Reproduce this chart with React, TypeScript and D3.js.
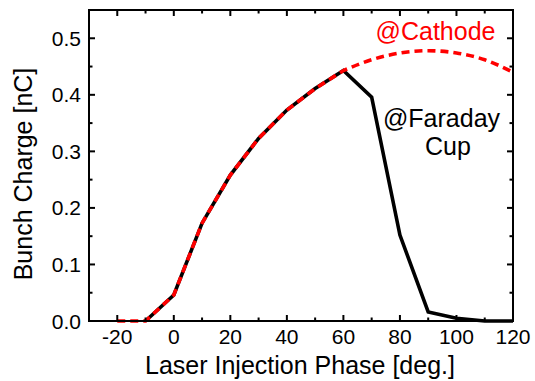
import React from "react";
import * as d3 from "d3";

const phaseFaraday = [-10, 0, 10, 20, 30, 40, 50, 60, 70, 80, 90, 100, 110, 120];
const chargeFaraday = [0, 0.046, 0.173, 0.258, 0.323, 0.373, 0.411, 0.443, 0.396, 0.152, 0.016, 0.005, 0, 0];

const phaseCathodeLin = [-20, -10, 0, 10, 20, 30, 40, 50, 60];
const chargeCathodeLin = [0, 0, 0.046, 0.173, 0.258, 0.323, 0.373, 0.411, 0.443];
const phaseCathodeCurve = [60, 70, 80, 90, 100, 110, 120];
const chargeCathodeCurve = [0.443, 0.462, 0.474, 0.478, 0.474, 0.462, 0.44];

const xMajor = [-20, 0, 20, 40, 60, 80, 100, 120];
const xMinor = [-30, -10, 10, 30, 50, 70, 90, 110];
const yMajor = [0, 0.1, 0.2, 0.3, 0.4, 0.5];
const yMinor = [0.05, 0.15, 0.25, 0.35, 0.45];

const W = 535, H = 381;
const L = 89, T = 10, R = 513, B = 321;
const FONT = "'Liberation Sans', Arial, sans-serif";

export default function App() {
  const x = d3.scaleLinear().domain([-30, 120]).range([L, R]);
  const y = d3.scaleLinear().domain([0, 0.55]).range([B, T]);

  const black = d3.line<number>().x((_, i) => x(phaseFaraday[i])).y((d) => y(d))(chargeFaraday) || "";
  const redLin = d3.line<number>().x((_, i) => x(phaseCathodeLin[i])).y((d) => y(d))(chargeCathodeLin) || "";
  const redCurve = (d3.line<number>().x((_, i) => x(phaseCathodeCurve[i])).y((d) => y(d)).curve(d3.curveMonotoneX)(chargeCathodeCurve) || "").replace(/^M[^A-Za-z]*/, "");
  const red = redLin + redCurve;

  const majLen = 6, minLen = 3.5;

  return (
    <svg width={W} height={H} style={{ position: "absolute", left: 0, top: 0, background: "#fff" }} fontFamily={FONT}>
      <rect x={0} y={0} width={W} height={H} fill="#fff" />
      <path d={black} fill="none" stroke="#000" strokeWidth={3.6} strokeLinejoin="miter" />
      <path d={red} fill="none" stroke="#ff0000" strokeWidth={3.6} strokeDasharray="8,5" />
      <rect x={L} y={T} width={R - L} height={B - T} fill="none" stroke="#000" strokeWidth={2} />
      {xMajor.map((v) => (
        <g key={"xM" + v}>
          <line x1={x(v)} x2={x(v)} y1={B} y2={B - majLen} stroke="#000" strokeWidth={2} />
          <line x1={x(v)} x2={x(v)} y1={T} y2={T + majLen} stroke="#000" strokeWidth={2} />
          <text x={x(v)} y={344} textAnchor="middle" fontSize={21}>{v}</text>
        </g>
      ))}
      {xMinor.map((v) => (
        <g key={"xm" + v}>
          <line x1={x(v)} x2={x(v)} y1={B} y2={B - minLen} stroke="#000" strokeWidth={2} />
          <line x1={x(v)} x2={x(v)} y1={T} y2={T + minLen} stroke="#000" strokeWidth={2} />
        </g>
      ))}
      {yMajor.map((v) => (
        <g key={"yM" + v}>
          <line x1={L} x2={L + majLen} y1={y(v)} y2={y(v)} stroke="#000" strokeWidth={2} />
          <line x1={R} x2={R - majLen} y1={y(v)} y2={y(v)} stroke="#000" strokeWidth={2} />
          <text x={81} y={y(v) + 7.5} textAnchor="end" fontSize={21}>{v.toFixed(1)}</text>
        </g>
      ))}
      {yMinor.map((v) => (
        <g key={"ym" + v}>
          <line x1={L} x2={L + minLen} y1={y(v)} y2={y(v)} stroke="#000" strokeWidth={2} />
          <line x1={R} x2={R - minLen} y1={y(v)} y2={y(v)} stroke="#000" strokeWidth={2} />
        </g>
      ))}
      <text x={300} y={374} textAnchor="middle" fontSize={25}>Laser Injection Phase [deg.]</text>
      <text transform={`translate(32,174) rotate(-90)`} textAnchor="middle" fontSize={25}>Bunch Charge [nC]</text>
      <text x={435.5} y={40} textAnchor="middle" fontSize={25} fill="#ff0000">@Cathode</text>
      <text x={441.5} y={127} textAnchor="middle" fontSize={25}>@Faraday</text>
      <text x={448} y={155} textAnchor="middle" fontSize={25}>Cup</text>
    </svg>
  );
}
